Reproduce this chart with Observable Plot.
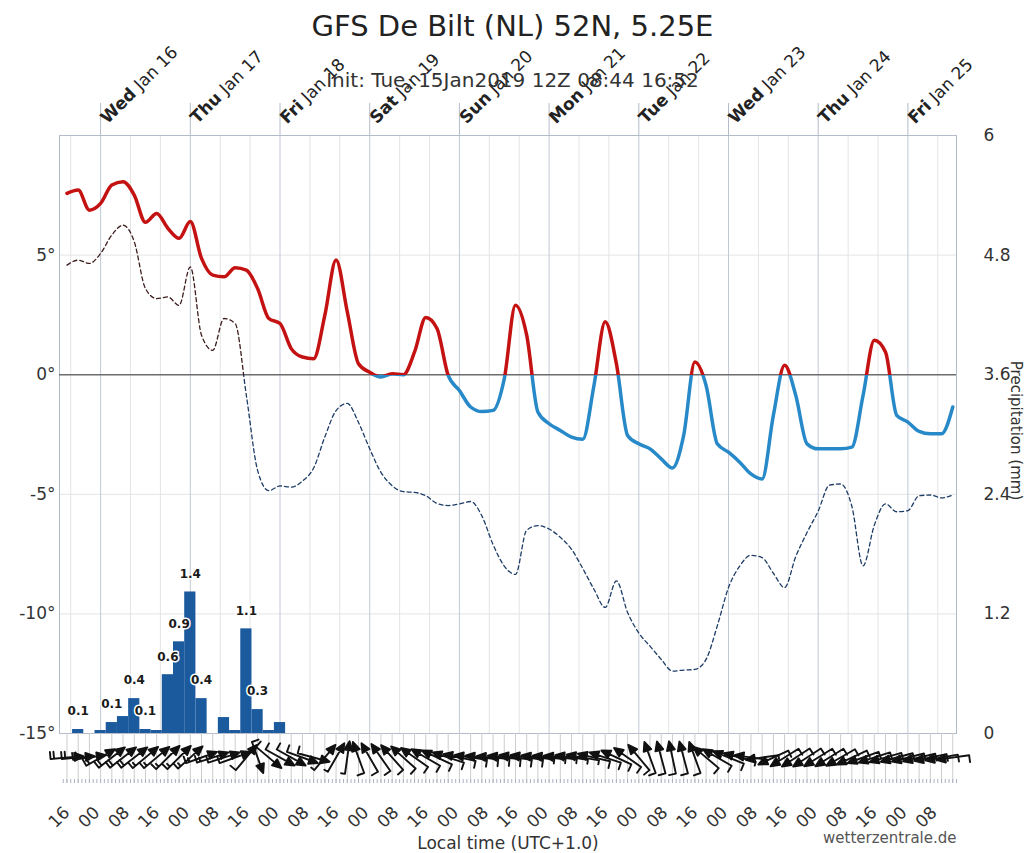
<!DOCTYPE html>
<html><head><meta charset="utf-8">
<script src="https://cdn.jsdelivr.net/npm/d3@7"></script>
<script src="https://cdn.jsdelivr.net/npm/@observablehq/plot@0.6"></script>
<style>html,body{margin:0;padding:0;background:#fff;overflow:hidden}</style>
</head><body><div id="chart"></div><script>
// ---- texts
const titleText = "GFS De Bilt (NL) 52N, 5.25E";
const subtitleText = "Init: Tue, 15Jan2019 12Z 08:44 16:52";
const xTitle = "Local time (UTC+1.0)";
const rightTitle = "Precipitation (mm)";
const credit = "wetterzentrale.de";

// ---- time axis (hours since Wed Jan 16 00:00 local)
const xDomain = [-11, 229];
const times = d3.range(-9, 229, 3); // 3-hourly forecast steps
const dayTimes = [0, 24, 48, 72, 96, 120, 144, 168, 192, 216];
const dayNames = ["Wed","Thu","Fri","Sat","Sun","Mon","Tue","Wed","Thu","Fri"];
const dayDates = ["Jan 16","Jan 17","Jan 18","Jan 19","Jan 20","Jan 21","Jan 22","Jan 23","Jan 24","Jan 25"];
const hourLabelTimes = d3.range(-8, 229, 8);

// ---- temperature (°C) and dew point (°C)
const temperature = [7.58,7.72,6.88,7.16,7.93,8.07,7.51,6.37,6.74,6.12,
  5.70,6.40,4.86,4.16,4.09,4.47,4.37,3.60,2.35,2.14,
  1.09,0.74,0.67,2.49,4.79,2.63,0.46,0.10,-0.10,0.04,
  0.00,0.95,2.39,1.93,-0.03,-0.66,-1.35,-1.54,-1.49,-0.17,
  2.90,1.65,-1.56,-2.05,-2.33,-2.61,-2.70,-0.45,2.21,0.46,
  -2.54,-2.89,-3.10,-3.52,-3.90,-2.54,0.53,-0.45,-2.89,-3.24,
  -3.66,-4.15,-4.36,-1.70,0.39,-0.87,-2.89,-3.10,-3.10,-3.10,
  -3.03,-0.87,1.44,0.95,-1.70,-1.98,-2.37,-2.47,-2.47,-1.35];
const dewPoint = [4.58,4.79,4.65,5.07,5.84,6.25,5.56,3.60,3.18,3.25,
  2.90,4.51,1.65,1.02,2.35,2.14,-0.87,-4.0,-4.85,-4.65,
  -4.7,-4.45,-3.9,-2.6,-1.5,-1.2,-2.0,-3.1,-4.08,-4.64,
  -4.89,-4.92,-5.06,-5.38,-5.47,-5.4,-5.3,-5.9,-7.1,-8.0,
  -8.35,-6.5,-6.31,-6.45,-6.8,-7.3,-8.1,-8.97,-9.73,-8.62,
  -9.94,-10.8,-11.35,-11.9,-12.39,-12.35,-12.32,-11.9,-10.5,-8.9,
  -8.0,-7.55,-7.65,-8.3,-8.9,-7.6,-6.6,-5.7,-4.62,-4.57,
  -5.5,-7.99,-6.3,-5.4,-5.73,-5.68,-5.06,-5.03,-5.15,-5.03];

// ---- precipitation (mm per 3 h)
const precipTimes = [-9,-6,-3,0,3,6,9,12,15,18,21,24,27,30,33,36,39,42,45,48];
const precipMm =    [0,0.04,0,0.03,0.11,0.17,0.35,0.04,0.03,0.59,0.92,1.42,0.35,0,0.16,0.03,1.05,0.24,0.03,0.11];
const precipLabels = ["","0.1","","","0.1","","0.4","0.1","","0.6","0.9","1.4","0.4","","","","1.1","0.3","",""];

// ---- wind (direction from, degrees; speed, kt)
const windFrom = [265,265,262,240,232,232,232,230,230,225, 225,228,250,252,252,250,220,340,310,299,
  299,290,285,220,210,188,160,150,145,138, 132,125,120,115,108,102,98,96,95,96,
  98,98,97,96,96,98,100,103,108,115, 125,140,160,165,168,165,160,130,120,112,
  105,98,82,65,58,57,57,58,58,60, 65,70,72,74,75,76,77,78,80,82];
const windKt = [24,24,22,20,20,20,20,19,18,18, 17,17,16,15,14,13,12,12,14,13,
  12,11,10,9,9,8,10,12,13,14, 14,13,13,12,12,12,11,11,11,10,
  10,10,9,9,9,9,9,10,10,11, 11,12,12,12,12,12,12,11,10,10,
  9,9,9,10,11,12,13,13,13,12, 12,11,11,11,11,11,11,11,11,10];

// ---- axes
const tempDomain = [-15, 10];
const tempTicks = [-15, -10, -5, 0, 5];
const gridTemps = [-15, -10, -5, 0, 5, 10];
const precipDomain = [0, 6];
const precipTicks = [0, 1.2, 2.4, 3.6, 4.8, 6];

// ---- colours
const RED = "#c41212", BLUE = "#2789c8", DRED = "#3c1c1c", DBLUE = "#1d3c66";
const BAR = "#1c5a9e";

const mmToY = p => tempDomain[0] + (p - precipDomain[0]) * (tempDomain[1] - tempDomain[0]) / (precipDomain[1] - precipDomain[0]);
const yToMm = y => precipDomain[0] + (y - tempDomain[0]) * (precipDomain[1] - precipDomain[0]) / (tempDomain[1] - tempDomain[0]);
const pad2 = h => String(((h % 24) + 24) % 24).padStart(2, "0");

const idx = d3.range(times.length);
const pIdx = d3.range(precipTimes.length).filter(i => precipMm[i] > 0);
const lIdx = d3.range(precipTimes.length).filter(i => precipLabels[i] !== "");

// gradient defs: colour above / below 0°
const gradients = (index, scales, values, dimensions) => {
  const {marginTop, marginBottom, height} = dimensions;
  const y0 = (scales && typeof scales.y === "function") ? scales.y(0)
    : marginTop + (height - marginTop - marginBottom) * (tempDomain[1] - 0) / (tempDomain[1] - tempDomain[0]);
  const defs = d3.create("svg:defs");
  for (const [id, above, below] of [["tgrad", RED, BLUE], ["dgrad", DRED, DBLUE]]) {
    const g = defs.append("linearGradient").attr("id", id).attr("gradientUnits", "userSpaceOnUse")
      .attr("x1", 0).attr("x2", 0).attr("y1", y0 - 1).attr("y2", y0 + 1);
    g.append("stop").attr("offset", 0.5).attr("stop-color", above);
    g.append("stop").attr("offset", 0.5).attr("stop-color", below);
  }
  return defs.node();
};

// wind barb shape: staff, filled head, barbs at the tail
function barbShape(full, half) {
  return {
    draw(ctx, l) {
      ctx.moveTo(0, 0); ctx.lineTo(0, -l + 7);
      ctx.moveTo(0, -l); ctx.lineTo(-4, -l + 9); ctx.lineTo(4, -l + 9); ctx.closePath();
      let y = 0;
      for (let k = 0; k < full; k++) { ctx.moveTo(0, -y); ctx.lineTo(-7, -y); y += 3.5; }
      if (half) { ctx.moveTo(0, -y); ctx.lineTo(-4, -y); }
    }
  };
}
const windGroups = d3.groups(idx, i => `${Math.floor(windKt[i] / 10)}_${windKt[i] % 10 >= 5 ? 1 : 0}`);
const windMarks = windGroups.map(([key, ii]) => {
  const [full, half] = key.split("_").map(Number);
  return Plot.vector(ii, {
    x: i => times[i], rotate: i => (windFrom[i] + 180) % 360,
    length: 33, anchor: "middle", frameAnchor: "bottom", dy: 24,
    shape: barbShape(full, half), stroke: "#111", fill: "#111", strokeWidth: 1.9
  });
});

const nonDayGrid = hourLabelTimes.filter(t => t % 24 !== 0);

const chart = Plot.plot({
  width: 1024, height: 853,
  marginLeft: 59, marginRight: 68, marginTop: 135, marginBottom: 120,
  style: {fontFamily: "DejaVu Sans", fontSize: "17px", color: "#333", background: "#fff", overflow: "visible"},
  x: {type: "linear", domain: xDomain},
  y: {type: "linear", domain: tempDomain},
  marks: [
    gradients,
    Plot.gridX(nonDayGrid, {stroke: "#e4e4e4", strokeOpacity: 1}),
    Plot.gridY(gridTemps, {stroke: "#e4e4e4", strokeOpacity: 1}),
    Plot.gridX(dayTimes, {stroke: "#c2c8d4", strokeOpacity: 1}),
    Plot.frame({stroke: "#b4bccb"}),
    Plot.rect(pIdx, {x1: i => precipTimes[i] - 1.5, x2: i => precipTimes[i] + 1.5,
      y1: () => mmToY(0), y2: i => mmToY(precipMm[i]), fill: BAR}),
    Plot.ruleY([0], {stroke: "#6e6e6e", strokeWidth: 1.5}),
    Plot.line(idx, {x: i => times[i], y: i => dewPoint[i], stroke: "url(#dgrad)", strokeWidth: 1.3,
      strokeDasharray: "4 3", curve: "monotone-x"}),
    Plot.line(idx, {x: i => times[i], y: i => temperature[i], stroke: "url(#tgrad)", strokeWidth: 3.5,
      curve: "monotone-x"}),
    Plot.text(lIdx, {x: i => precipTimes[i], y: i => mmToY(precipMm[i]), text: i => precipLabels[i],
      dy: -18, fontSize: 12, fontWeight: "bold", fill: "#1a1a1a", stroke: "white", strokeWidth: 3}),
    Plot.axisY(tempTicks, {anchor: "left", tickSize: 0, tickPadding: 4, tickFormat: d => d + "°",
      fontSize: 17, fill: "#333", label: null}),
    Plot.axisY(precipTicks.map(mmToY), {anchor: "right", tickSize: 0, tickPadding: 27,
      tickFormat: d => String(+yToMm(d).toFixed(1)), fontSize: 17, fill: "#333", label: null}),
    Plot.axisX(dayTimes, {anchor: "top", tickSize: 33, tickFormat: () => "", stroke: "#b4bccb", label: null}),
    Plot.axisX(d3.range(-9, 229, 3), {anchor: "bottom", tickSize: 50, tickFormat: () => "", stroke: "#cdcdcd", label: null}),
    Plot.axisX(d3.range(-10, 230, 1), {anchor: "bottom", tickSize: 4, dy: 46, tickFormat: () => "", stroke: "#a9b1c2", label: null}),
    ...windMarks,
    Plot.text(hourLabelTimes, {x: d => d, text: d => pad2(d), frameAnchor: "bottom", dy: 80,
      rotate: -45, textAnchor: "end", fontSize: 17, fill: "#333"}),
    Plot.text(d3.range(dayTimes.length), {x: i => dayTimes[i], text: i => dayNames[i] + " " + dayDates[i],
      frameAnchor: "top", dx: 7, dy: -11, rotate: -45, textAnchor: "start", lineAnchor: "bottom",
      fontSize: 17, fill: "#222"}),
    Plot.text([titleText], {frameAnchor: "top", dx: 4.5, dy: -100, lineAnchor: "bottom", fontSize: 29, fill: "#222"}),
    Plot.text([subtitleText], {frameAnchor: "top", dx: 4.5, dy: -49, lineAnchor: "bottom", fontSize: 20, fill: "#333"}),
    Plot.text([xTitle], {frameAnchor: "bottom", dx: 0, dy: 115, lineAnchor: "bottom", fontSize: 17, fill: "#333"}),
    Plot.text([credit], {frameAnchor: "bottom-right", dx: 0, dy: 109, textAnchor: "end", lineAnchor: "bottom", fontSize: 15, fill: "#555"}),
    Plot.text([rightTitle], {frameAnchor: "right", dx: 54, dy: -4, rotate: 90, textAnchor: "middle", lineAnchor: "bottom", fontSize: 15, fill: "#333"})
  ]
});

// bold weekday names in the top labels
d3.select(chart).selectAll("text").each(function () {
  const m = /^(Mon|Tue|Wed|Thu|Fri|Sat|Sun) (Jan \d+)$/.exec(this.textContent);
  if (!m) return;
  const t = d3.select(this);
  t.text(null);
  t.append("tspan").attr("font-weight", "bold").text(m[1]);
  t.append("tspan").text(" " + m[2]);
});

document.getElementById("chart").append(chart);
</script></body></html>
